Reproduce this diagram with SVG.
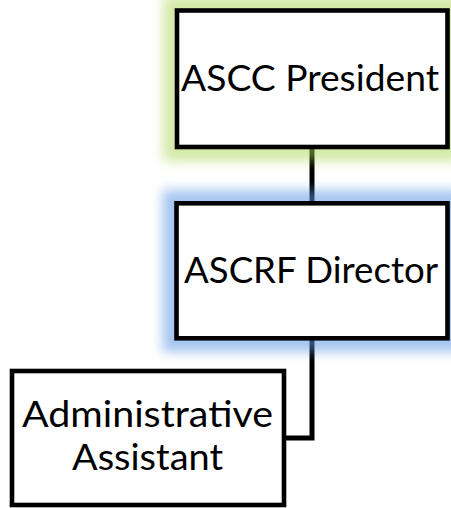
<svg xmlns="http://www.w3.org/2000/svg" width="451" height="508" viewBox="0 0 451 508">
  <style>
    .box { fill: #ffffff; stroke: #000000; stroke-width: 4.6; }
    .conn { fill: none; stroke: #000000; stroke-width: 5; stroke-linejoin: miter; }
    .label { font-family: Lato, "Open Sans", "Liberation Sans", sans-serif; font-size: 36px; fill: #000000; text-anchor: middle; }
    .glow-green { fill: #a8d450; opacity: 0.5; }
    .glow-blue { fill: #5a97e4; opacity: 0.55; }
  </style>
  <defs>
    <filter id="glow" x="-25%" y="-40%" width="150%" height="180%">
      <feGaussianBlur stdDeviation="6"/>
    </filter>
  </defs>
  <rect x="0" y="0" width="451" height="508" fill="#ffffff"/>

  <g id="connectors">
    <line class="conn" x1="312" y1="147" x2="312" y2="203"/>
    <polyline class="conn" points="312,338 312,438 284,438"/>
  </g>

  <g id="node-ascc-president">
    <rect class="glow-green" x="163" y="-4" width="300" height="165" filter="url(#glow)"/>
    <rect class="box" x="177" y="10.5" width="270.5" height="136.5"/>
    <text class="label" x="310" y="91" textLength="258" lengthAdjust="spacingAndGlyphs">ASCC President</text>
  </g>

  <g id="node-ascrf-director">
    <rect class="glow-blue" x="162.5" y="190" width="300" height="162" filter="url(#glow)"/>
    <rect class="box" x="176.5" y="203.3" width="271" height="135"/>
    <text class="label" x="311" y="283" textLength="254" lengthAdjust="spacingAndGlyphs">ASCRF Director</text>
  </g>

  <g id="node-administrative-assistant">
    <rect class="box" x="12" y="371" width="272" height="134"/>
    <text class="label" x="147.5" y="427" textLength="251" lengthAdjust="spacingAndGlyphs">Administrative</text>
    <text class="label" x="147.5" y="470" textLength="151" lengthAdjust="spacingAndGlyphs">Assistant</text>
  </g>
</svg>
